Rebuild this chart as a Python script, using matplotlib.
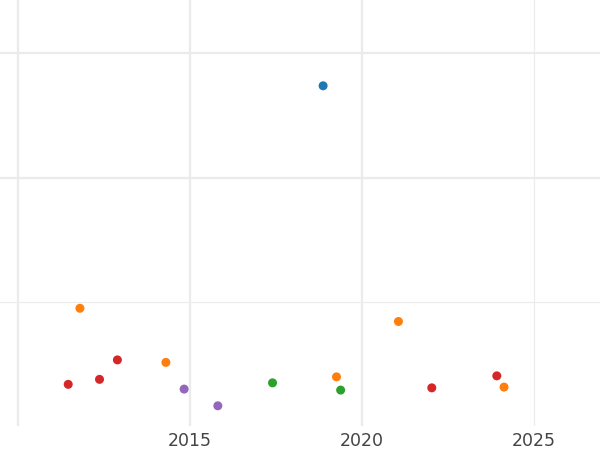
import matplotlib
matplotlib.use("Agg")
import matplotlib.pyplot as plt

# points by colour group (year, value)
blue_x = [2018.87]
blue_y = [273.6]
orange_x = [2011.80, 2014.30, 2019.26, 2021.06, 2024.13]
orange_y = [95.2, 51.8, 40.2, 84.6, 32.0]
green_x = [2017.40, 2019.38]
green_y = [35.4, 29.6]
red_x = [2011.46, 2012.37, 2012.89, 2022.03, 2023.92]
red_y = [34.2, 38.2, 53.8, 31.4, 41.0]
purple_x = [2014.83, 2015.81]
purple_y = [30.4, 17.0]

x_ticks = [2010, 2015, 2020, 2025]
x_labels = ["", "2015", "2020", "2025"]
y_ticks = [100, 200, 300]

fig = plt.figure(figsize=(6, 4.5), dpi=100)
ax = fig.add_axes([0, 1 - 426 / 450, 1, 426 / 450])

groups = [
    (blue_x, blue_y, "#1f77b4"),
    (orange_x, orange_y, "#ff7f0e"),
    (green_x, green_y, "#2ca02c"),
    (red_x, red_y, "#d62728"),
    (purple_x, purple_y, "#9467bd"),
]
for xs, ys, c in groups:
    ax.scatter(xs, ys, s=42, color=c, edgecolors="none", zorder=3)

ax.set_xlim(2009.477, 2026.92)
ax.set_ylim(0.8, 342.4)
ax.set_xticks(x_ticks)
ax.set_xticklabels(x_labels)
ax.set_yticks(y_ticks)
ax.set_yticklabels([])
ax.tick_params(length=0, labelsize=12.5, labelcolor="#444444", pad=4)
ax.grid(True, color="#ebebeb", zorder=0)
ax.set_axisbelow(True)

for line, tick in zip(ax.get_xgridlines(), x_ticks):
    line.set_linewidth(0.8 if tick == 2025 else 1.6)
for line, tick in zip(ax.get_ygridlines(), y_ticks):
    line.set_linewidth(0.8 if tick == 100 else 1.6)

for s in ax.spines.values():
    s.set_visible(False)

plt.savefig("out.png", dpi=100)
plt.close()
